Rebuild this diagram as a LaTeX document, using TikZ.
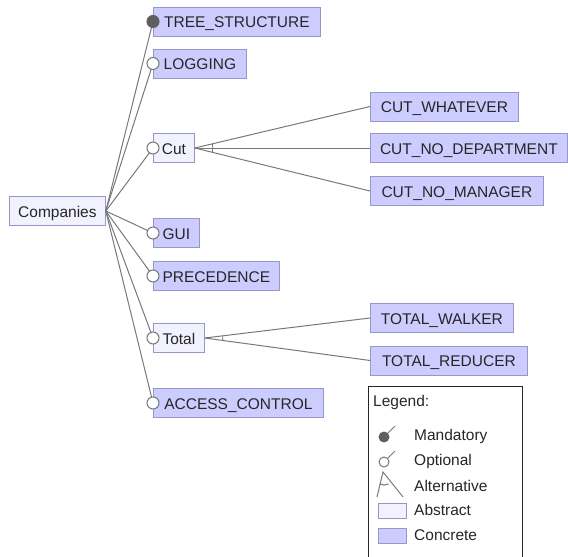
\documentclass[tikz,border=0pt]{standalone}
\usepackage{fontspec}
\setmainfont{Liberation Sans}
\usetikzlibrary{calc}
\definecolor{concfill}{RGB}{204,204,255}
\definecolor{absfill}{RGB}{242,242,255}
\definecolor{bordc}{RGB}{150,150,200}
\definecolor{linec}{RGB}{120,120,120}
\definecolor{mandc}{RGB}{95,95,95}
\begin{document}
\begin{tikzpicture}[x=1pt,y=-1pt,
  feat/.style={draw=bordc, line width=0.8pt, anchor=west, minimum height=29pt,
    inner xsep=2pt, inner ysep=0pt, text height=14.5pt, text depth=2.5pt,
    font=\fontsize{15.5}{16}\selectfont, text=black!85},
  conc/.style={feat, fill=concfill},
  abst/.style={feat, fill=absfill},
  edge/.style={draw=linec, line width=1pt},
  optc/.style={circle, draw=linec, fill=white, line width=1pt, minimum size=12pt, inner sep=0pt},
  mandcirc/.style={optc, fill=mandc, draw=mandc},
  legtext/.style={anchor=west, font=\fontsize{15.5}{16}\selectfont, text=black!85, inner sep=0pt},
  legbox/.style={draw=bordc, line width=0.8pt}
]
\useasboundingbox (0,0) rectangle (568,557);

% features
\node[abst, minimum width=96pt] (comp) at (9,211) {Companies};
\node[conc, minimum width=167pt] (tree) at (153,21.5) {TREE\_STRUCTURE};
\node[conc, minimum width=93pt] (log) at (153,63.5) {LOGGING};
\node[abst, minimum width=41pt] (cut) at (153,148) {Cut};
\node[conc, minimum width=46pt] (gui) at (153,233) {GUI};
\node[conc, minimum width=126pt] (prec) at (153,276) {PRECEDENCE};
\node[abst, minimum width=51pt] (total) at (153,338) {Total};
\node[conc, minimum width=170pt] (acc) at (153,403) {ACCESS\_CONTROL};
\node[conc, minimum width=148pt] (cw) at (370,106.5) {CUT\_WHATEVER};
\node[conc, minimum width=197pt] (cnd) at (370,148) {CUT\_NO\_DEPARTMENT};
\node[conc, minimum width=173pt] (cnm) at (370,191) {CUT\_NO\_MANAGER};
\node[conc, minimum width=143pt] (tw) at (370,318) {TOTAL\_WALKER};
\node[conc, minimum width=157pt] (tr) at (370,360.5) {TOTAL\_REDUCER};

% edges from root
\foreach \n in {tree,log,cut,gui,prec,total,acc}
  \draw[edge] (comp.east) -- (\n.west);
% alternative groups
\foreach \n in {cw,cnd,cnm}
  \draw[edge] (cut.east) -- (\n.west);
\foreach \n in {tw,tr}
  \draw[edge] (total.east) -- (\n.west);
\draw[edge, line width=0.8pt] ($(cut.east)!18pt!(cw.west)$) -- ($(cut.east)!18pt!(cnd.west)$) -- ($(cut.east)!18pt!(cnm.west)$);
\draw[edge, line width=0.8pt] ($(total.east)!18pt!(tw.west)$) -- ($(total.east)!18pt!(tr.west)$);

% decorations
\node[mandcirc] (m1) at (tree.west) {};
\foreach \n in {log,cut,gui,prec,total,acc}
  \node[optc] at (\n.west) {};

% legend
\draw[draw=black!85, line width=1pt] (368,562) -- (368,386) -- (522,386) -- (522,562);
\node[legtext] (lg) at (373,402) {Legend:};
\coordinate (mi) at (384,437);
\draw[edge] (mi) -- (395,426);
\fill[mandc] (mi) circle (5.5pt);
\node[legtext] (lm) at (414,436) {Mandatory};
\coordinate (oi) at (384,462);
\draw[edge] (oi) -- ++(11,-11);
\draw[edge, fill=white] (oi) circle (5pt);
\node[legtext] (lo) at (414,461) {Optional};
\coordinate (ai) at (383,472);
\draw[edge] (377,497) -- (ai) -- (403,497);
\draw[edge] (379.5,484) to[bend right=25] (388.5,484);
\node[legtext] (la) at (414,486) {Alternative};
\draw[legbox, fill=absfill] (378,503) rectangle (406,518);
\node[legtext] (lab) at (414,510) {Abstract};
\draw[legbox, fill=concfill] (378,528) rectangle (406,543);
\node[legtext] (lc) at (414,535) {Concrete};
\end{tikzpicture}
\end{document}
